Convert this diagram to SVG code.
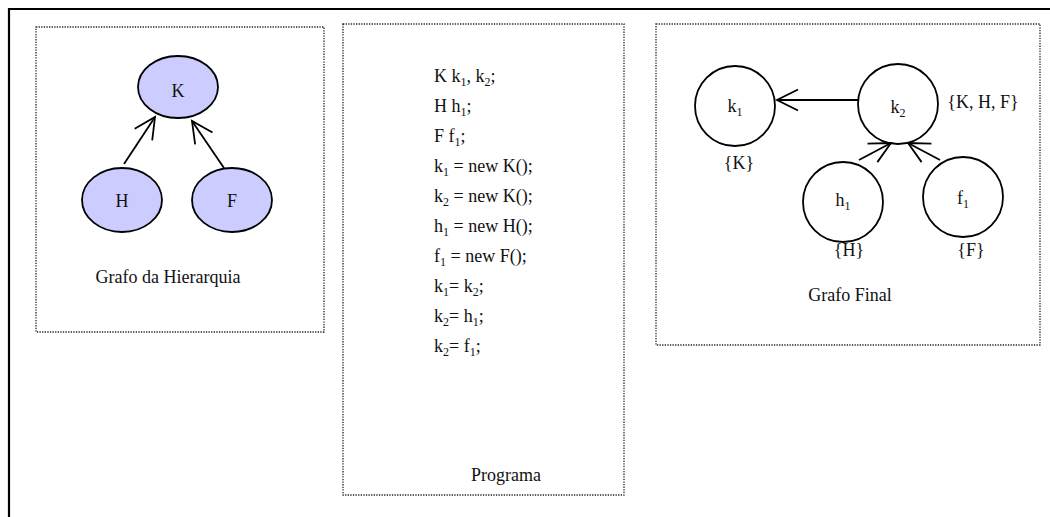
<svg xmlns="http://www.w3.org/2000/svg" width="1050" height="517" viewBox="0 0 1050 517">
<style>
.t{font-family:"Liberation Serif","Times New Roman",serif;font-size:18px;fill:#111;}
.c{text-anchor:middle;}
.box{fill:none;stroke:#222;stroke-width:1.3;stroke-dasharray:1.3 1.3;}
.ell{fill:#ccccff;stroke:#000;stroke-width:1.8;}
.cir{fill:#fff;stroke:#000;stroke-width:1.8;}
.edge{stroke:#000;stroke-width:1.8;fill:none;marker-end:url(#arr);}
</style>
<defs>
<marker id="arr" markerUnits="userSpaceOnUse" viewBox="-24 -13 27 26" markerWidth="27" markerHeight="26" refX="0" refY="0" orient="auto">
<path d="M-21,-10.5 L0,0 L-21,10.5" fill="none" stroke="#000" stroke-width="1.8"/>
</marker>
</defs>
<rect width="1050" height="517" fill="#fff"/>
<g id="frame">
<path d="M9,517 V9 H1050" fill="none" stroke="#000" stroke-width="2.2"/>
</g>
<g id="panel-hierarquia">
<rect class="box" x="36" y="27" width="288" height="305"/>
<text class="t c" x="168" y="283">Grafo da Hierarquia</text>
</g>
<g id="node-K"><ellipse class="ell" cx="178" cy="87" rx="40" ry="31"/><text class="t c" x="178" y="97">K</text></g>
<g id="node-H"><ellipse class="ell" cx="122" cy="200" rx="40" ry="32"/><text class="t c" x="122" y="207">H</text></g>
<g id="node-F"><ellipse class="ell" cx="232" cy="200" rx="40" ry="32"/><text class="t c" x="232" y="207">F</text></g>
<g id="panel-programa">
<rect class="box" x="343" y="24" width="281" height="471"/>
<text class="t" x="434" y="82">K k<tspan font-size="12" dy="4">1</tspan><tspan dy="-4">, k</tspan><tspan font-size="12" dy="4">2</tspan><tspan dy="-4">;</tspan></text>
<text class="t" x="434" y="112">H h<tspan font-size="12" dy="4">1</tspan><tspan dy="-4">;</tspan></text>
<text class="t" x="434" y="142">F f<tspan font-size="12" dy="4">1</tspan><tspan dy="-4">;</tspan></text>
<text class="t" x="434" y="172">k<tspan font-size="12" dy="4">1</tspan><tspan dy="-4"> = new K();</tspan></text>
<text class="t" x="434" y="202">k<tspan font-size="12" dy="4">2</tspan><tspan dy="-4"> = new K();</tspan></text>
<text class="t" x="434" y="232">h<tspan font-size="12" dy="4">1</tspan><tspan dy="-4"> = new H();</tspan></text>
<text class="t" x="434" y="262">f<tspan font-size="12" dy="4">1</tspan><tspan dy="-4"> = new F();</tspan></text>
<text class="t" x="434" y="292">k<tspan font-size="12" dy="4">1</tspan><tspan dy="-4">= k</tspan><tspan font-size="12" dy="4">2</tspan><tspan dy="-4">;</tspan></text>
<text class="t" x="434" y="322">k<tspan font-size="12" dy="4">2</tspan><tspan dy="-4">= h</tspan><tspan font-size="12" dy="4">1</tspan><tspan dy="-4">;</tspan></text>
<text class="t" x="434" y="352">k<tspan font-size="12" dy="4">2</tspan><tspan dy="-4">= f</tspan><tspan font-size="12" dy="4">1</tspan><tspan dy="-4">;</tspan></text>
<text class="t c" x="506" y="481">Programa</text>
</g>
<g id="panel-final">
<rect class="box" x="656" y="24" width="384" height="321"/>
<text class="t c" x="850" y="301">Grafo Final</text>
</g>
<g id="node-k1"><circle class="cir" cx="735" cy="106" r="40"/><text class="t c" x="735" y="112">k<tspan font-size="12" dy="4">1</tspan></text><text class="t c" x="739" y="169">{K}</text></g>
<g id="node-k2"><circle class="cir" cx="898" cy="104" r="40"/><text class="t c" x="898" y="113">k<tspan font-size="12" dy="4">2</tspan></text><text class="t c" x="983" y="108">{K, H, F}</text></g>
<g id="node-h1"><circle class="cir" cx="843" cy="202" r="40"/><text class="t c" x="843" y="206">h<tspan font-size="12" dy="4">1</tspan></text><text class="t c" x="849" y="256">{H}</text></g>
<g id="node-f1"><circle class="cir" cx="963" cy="197" r="40"/><text class="t c" x="963" y="204">f<tspan font-size="12" dy="4">1</tspan></text><text class="t c" x="971" y="256">{F}</text></g>
<g id="connectors">
<line class="edge" x1="124" y1="164" x2="155" y2="117"/>
<line class="edge" x1="224" y1="168" x2="192" y2="121"/>
<line class="edge" x1="858" y1="100" x2="777" y2="100"/>
<line class="edge" x1="859" y1="160" x2="891" y2="143"/>
<line class="edge" x1="940" y1="160" x2="908" y2="143"/>
</g>
</svg>
